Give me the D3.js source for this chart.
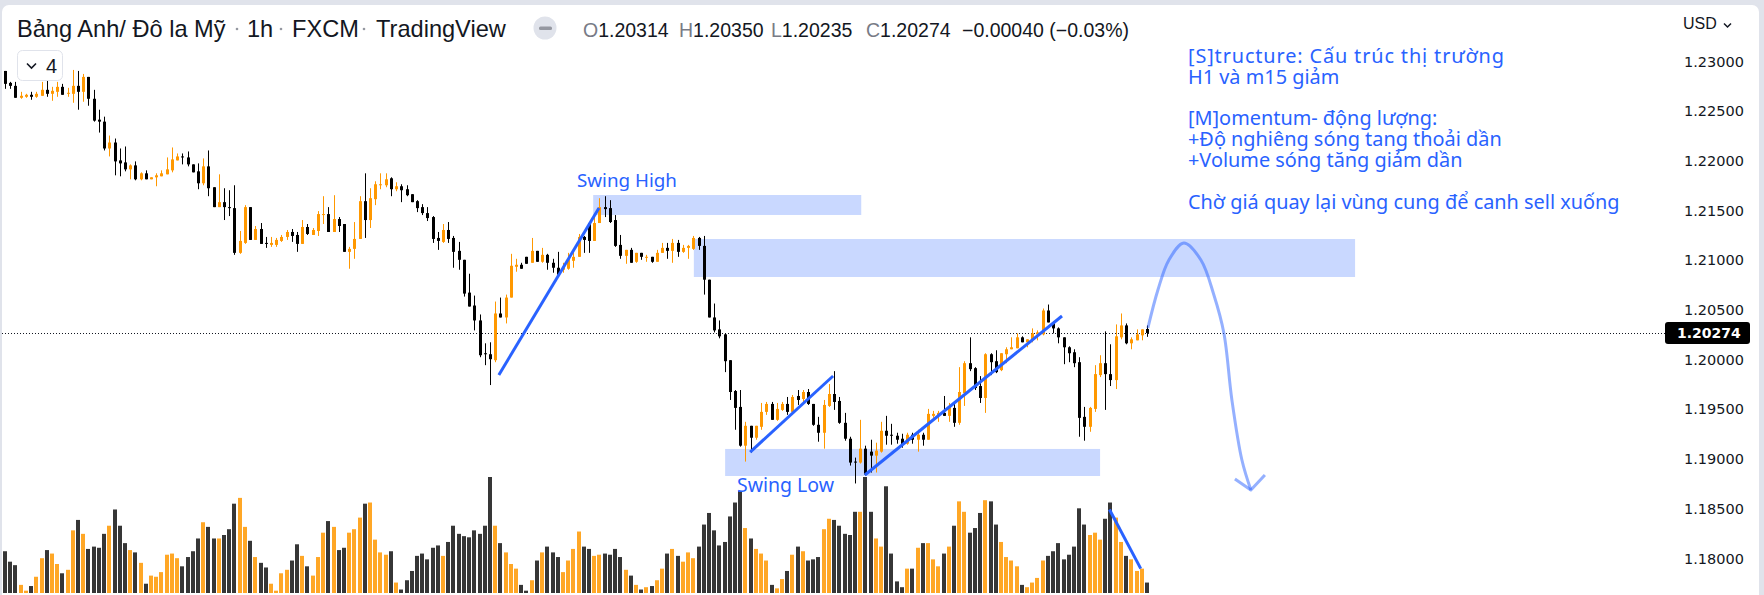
<!DOCTYPE html>
<html><head><meta charset="utf-8">
<script src="https://cdn.jsdelivr.net/npm/d3@7"></script>
<style>html,body{margin:0;padding:0;background:#e0e3eb;}svg{display:block;}</style>
</head><body>
<svg id="c" width="1764" height="595"></svg>
<script>
// ---------------- DATA (GBP/USD 1h, FXCM) ----------------
const open = [
1.2291,1.2279,1.2276,1.2264,1.2265,1.2267,1.2265,1.2266,1.2272,1.2268,
1.2270,1.2275,1.2268,1.2268,1.2276,1.2270,1.2285,1.2263,1.2242,1.2240,
1.2213,1.2219,1.2201,1.2199,1.2192,1.2196,1.2182,1.2188,1.2182,1.2184,
1.2185,1.2187,1.2191,1.2201,1.2205,1.2204,1.2197,1.2190,1.2178,1.2195,
1.2174,1.2154,1.2159,1.2154,1.2153,1.2108,1.2118,1.2154,1.2121,1.2132,
1.2118,1.2116,1.2116,1.2120,1.2124,1.2129,1.2126,1.2117,1.2134,1.2126,
1.2130,1.2146,1.2147,1.2129,1.2142,1.2137,1.2109,1.2112,1.2122,1.2160,
1.2141,1.2162,1.2176,1.2176,1.2183,1.2172,1.2175,1.2172,1.2167,1.2160,
1.2154,1.2148,1.2144,1.2123,1.2119,1.2131,1.2123,1.2110,1.2101,1.2068,
1.2055,1.2040,1.2007,1.2006,1.2000,1.2047,1.2043,1.2063,1.2094,1.2096,
1.2104,1.2098,1.2110,1.2099,1.2106,1.2098,1.2093,1.2091,1.2092,1.2100,
1.2104,1.2124,1.2138,1.2120,1.2138,1.2154,1.2153,1.2141,1.2116,1.2105,
1.2111,1.2099,1.2108,1.2103,1.2104,1.2099,1.2108,1.2113,1.2110,1.2118,
1.2109,1.2113,1.2112,1.2123,1.2115,1.2081,1.2043,1.2031,1.2026,1.2000,
1.1969,1.1953,1.1914,1.1934,1.1922,1.1933,1.1948,1.1956,1.1940,1.1950,
1.1956,1.1948,1.1964,1.1961,1.1968,1.1956,1.1935,1.1927,1.1954,1.1966,
1.1959,1.1937,1.1921,1.1898,1.1897,1.1911,1.1908,1.1904,1.1908,1.1929,
1.1925,1.1924,1.1921,1.1916,1.1925,1.1920,1.1925,1.1920,1.1944,1.1944,
1.1947,1.1944,1.1952,1.1937,1.1967,1.1997,1.1992,1.1974,1.1962,1.2006,
1.1999,1.1990,1.2006,1.2011,1.2012,1.2023,1.2018,1.2020,1.2026,1.2026,
1.2050,1.2038,1.2032,1.2023,1.2013,1.2008,1.1998,1.1943,1.1933,1.1951,
1.1985,1.1997,1.1986,1.1980,1.2023,1.2035,1.2017,1.2020,1.2025,1.20314];
const high = [
1.2291,1.2280,1.2280,1.2270,1.2268,1.2270,1.2270,1.2280,1.2283,1.2275,
1.2280,1.2278,1.2274,1.2292,1.2291,1.2288,1.2285,1.2272,1.2252,1.2245,
1.2226,1.2223,1.2213,1.2215,1.2197,1.2200,1.2189,1.2191,1.2184,1.2188,
1.2191,1.2204,1.2214,1.2208,1.2208,1.2210,1.2197,1.2198,1.2203,1.2211,
1.2174,1.2187,1.2173,1.2171,1.2176,1.2130,1.2156,1.2154,1.2135,1.2138,
1.2124,1.2124,1.2123,1.2126,1.2131,1.2132,1.2129,1.2141,1.2137,1.2133,
1.2150,1.2165,1.2154,1.2166,1.2144,1.2137,1.2114,1.2139,1.2165,1.2188,
1.2173,1.2180,1.2188,1.2188,1.2184,1.2179,1.2177,1.2176,1.2167,1.2161,
1.2157,1.2154,1.2145,1.2129,1.2137,1.2139,1.2125,1.2119,1.2101,1.2087,
1.2065,1.2046,1.2017,1.2018,1.2059,1.2063,1.2066,1.2107,1.2102,1.2098,
1.2104,1.2123,1.2110,1.2113,1.2107,1.2102,1.2109,1.2098,1.2108,1.2112,
1.2127,1.2125,1.2139,1.2145,1.2163,1.2165,1.2161,1.2146,1.2126,1.2111,
1.2113,1.2108,1.2108,1.2106,1.2104,1.2111,1.2118,1.2118,1.2122,1.2121,
1.2116,1.2116,1.2125,1.2124,1.2125,1.2081,1.2057,1.2040,1.2027,1.2000,
1.1970,1.1970,1.1938,1.1934,1.1934,1.1957,1.1958,1.1958,1.1957,1.1958,
1.1963,1.1965,1.1970,1.1970,1.1971,1.1956,1.1943,1.1960,1.1976,1.1989,
1.1963,1.1947,1.1923,1.1902,1.1940,1.1914,1.1920,1.1917,1.1938,1.1944,
1.1936,1.1927,1.1926,1.1927,1.1927,1.1930,1.1927,1.1951,1.1949,1.1949,
1.1964,1.1957,1.1957,1.1993,1.1999,1.2023,1.1993,1.1984,1.2007,1.2007,
1.2010,1.2007,1.2013,1.2023,1.2027,1.2024,1.2021,1.2032,1.2030,1.2052,
1.2056,1.2039,1.2033,1.2023,1.2014,1.2011,1.2003,1.1953,1.1953,1.1995,
1.2005,1.2029,1.2016,1.2036,1.2047,1.2037,1.2023,1.2031,1.2031,1.20350];
const low = [
1.2273,1.2273,1.2264,1.2263,1.2264,1.2262,1.2264,1.2266,1.2265,1.2261,
1.2265,1.2267,1.2265,1.2259,1.2252,1.2260,1.2256,1.2240,1.2229,1.2211,
1.2205,1.2186,1.2185,1.2190,1.2182,1.2181,1.2181,1.2182,1.2182,1.2175,
1.2185,1.2187,1.2189,1.2201,1.2197,1.2195,1.2189,1.2172,1.2176,1.2165,
1.2154,1.2154,1.2141,1.2145,1.2106,1.2107,1.2117,1.2121,1.2121,1.2117,
1.2113,1.2114,1.2114,1.2119,1.2121,1.2119,1.2109,1.2117,1.2126,1.2126,
1.2125,1.2137,1.2129,1.2129,1.2129,1.2109,1.2092,1.2102,1.2122,1.2123,
1.2133,1.2156,1.2172,1.2174,1.2165,1.2170,1.2159,1.2165,1.2159,1.2149,
1.2146,1.2140,1.2118,1.2111,1.2118,1.2118,1.2093,1.2091,1.2064,1.2054,
1.2030,1.2003,1.1995,1.1975,1.1998,1.2043,1.2037,1.2063,1.2089,1.2092,
1.2097,1.2098,1.2099,1.2098,1.2091,1.2088,1.2084,1.2088,1.2091,1.2093,
1.2104,1.2108,1.2108,1.2120,1.2138,1.2144,1.2138,1.2114,1.2102,1.2097,
1.2098,1.2098,1.2101,1.2099,1.2098,1.2099,1.2108,1.2102,1.2098,1.2104,
1.2108,1.2102,1.2111,1.2111,1.2066,1.2043,1.2028,1.2022,1.1988,1.1960,
1.1930,1.1913,1.1898,1.1907,1.1920,1.1930,1.1945,1.1940,1.1939,1.1949,
1.1945,1.1947,1.1955,1.1957,1.1955,1.1934,1.1918,1.1911,1.1953,1.1950,
1.1936,1.1919,1.1894,1.1876,1.1896,1.1884,1.1887,1.1887,1.1907,1.1915,
1.1915,1.1916,1.1912,1.1915,1.1916,1.1908,1.1914,1.1920,1.1942,1.1938,
1.1944,1.1938,1.1933,1.1935,1.1954,1.1989,1.1970,1.1957,1.1947,1.1985,
1.1987,1.1989,1.1997,1.2011,1.2012,1.2018,1.2013,1.2018,1.2020,1.2025,
1.2038,1.2027,1.2017,1.1996,1.1998,1.1993,1.1923,1.1919,1.1928,1.1948,
1.1983,1.1950,1.1974,1.1971,1.2021,1.2016,1.2011,1.2020,1.2020,1.20235];
const close = [
1.2278,1.2276,1.2264,1.2266,1.2267,1.2265,1.2268,1.2272,1.2268,1.2271,
1.2275,1.2267,1.2269,1.2276,1.2270,1.2285,1.2263,1.2241,1.2240,1.2213,
1.2219,1.2200,1.2198,1.2192,1.2196,1.2182,1.2188,1.2182,1.2184,1.2186,
1.2188,1.2192,1.2202,1.2205,1.2204,1.2197,1.2189,1.2178,1.2195,1.2173,
1.2154,1.2159,1.2154,1.2153,1.2108,1.2120,1.2154,1.2121,1.2132,1.2117,
1.2117,1.2118,1.2121,1.2124,1.2129,1.2125,1.2117,1.2134,1.2127,1.2131,
1.2147,1.2147,1.2129,1.2142,1.2135,1.2109,1.2112,1.2122,1.2160,1.2141,
1.2163,1.2177,1.2177,1.2182,1.2172,1.2175,1.2171,1.2166,1.2159,1.2153,
1.2148,1.2143,1.2122,1.2120,1.2131,1.2122,1.2109,1.2101,1.2067,1.2054,
1.2040,1.2005,1.2006,1.2001,1.2047,1.2043,1.2063,1.2095,1.2096,1.2092,
1.2097,1.2110,1.2099,1.2106,1.2098,1.2093,1.2086,1.2094,1.2102,1.2104,
1.2124,1.2121,1.2120,1.2138,1.2154,1.2152,1.2139,1.2115,1.2105,1.2111,
1.2098,1.2108,1.2104,1.2104,1.2099,1.2108,1.2113,1.2110,1.2118,1.2109,
1.2113,1.2115,1.2123,1.2115,1.2081,1.2043,1.2030,1.2024,1.1999,1.1968,
1.1952,1.1914,1.1934,1.1922,1.1934,1.1948,1.1956,1.1940,1.1951,1.1956,
1.1948,1.1963,1.1960,1.1968,1.1956,1.1935,1.1927,1.1955,1.1966,1.1958,
1.1937,1.1921,1.1897,1.1897,1.1911,1.1885,1.1904,1.1909,1.1929,1.1924,
1.1924,1.1920,1.1915,1.1925,1.1920,1.1925,1.1920,1.1946,1.1946,1.1947,
1.1944,1.1953,1.1937,1.1968,1.1997,1.1991,1.1972,1.1962,1.2006,1.1998,
1.1988,1.2007,1.2011,1.2013,1.2023,1.2018,1.2021,1.2027,1.2028,1.2050,
1.2038,1.2032,1.2023,1.2013,1.2007,1.1997,1.1942,1.1933,1.1952,1.1986,
1.1997,1.1986,1.1980,1.2024,1.2035,1.2017,1.2021,1.2026,1.2031,1.20274];
const volume = [
36,27,24,7,2,6,14,30,37,34, 25,17,20,54,63,51,38,40,39,51,
58,72,58,43,37,35,26,8,15,14, 18,33,34,30,23,31,36,47,61,57,
47,47,50,55,77,82,57,45,31,26, 22,8,2,17,20,28,42,32,23,15,
31,52,62,57,37,39,52,55,65,77, 78,46,35,33,36,9,3,11,19,32,
34,29,39,41,32,44,58,51,49,48, 54,51,58,100,58,43,35,25,21,7,
2,11,28,35,40,35,31,18,28,38, 53,40,38,32,33,34,33,38,31,20,
15,7,3,5,6,11,21,34,38,32, 27,35,30,40,59,69,54,41,44,66,
78,88,56,47,38,34,28,7,4,12, 19,33,40,36,28,29,31,55,64,63,
58,51,50,70,70,100,70,47,40,92, 34,10,5,21,21,39,43,43,29,23,
34,40,58,79,70,52,56,69,80,79, 59,44,31,28,23,7,5,9,13,28,
32,36,43,29,33,40,73,59,50,52, 46,64,78,65,44,32,29,19,21,9];
const priceTicks = [1.18,1.185,1.19,1.195,1.20,1.205,1.21,1.215,1.22,1.225,1.23];
const lastPrice = 1.20274;
const titleParts = ["Bảng Anh/ Đô la Mỹ","1h","FXCM","TradingView"];
const ohlcLetters = ["O","H","L","C"];
const ohlcValues = ["1.20314","1.20350","1.20235","1.20274"];
const changeText = "−0.00040 (−0.03%)";
// drawings (anchored at bar index / price)
const zoneBar0 = [112.8, 132.1, 138.1];
const zoneBar1 = [164.2, 258.9, 210.0];
const zoneTop  = [1.21662, 1.21219, 1.19107];
const zoneBot  = [1.21461, 1.20837, 1.18835];
const trendBar0 = [94.7, 142.9, 164.9];
const trendBar1 = [113.9, 158.8, 202.7];
const trendP0 = [1.19851, 1.19076, 1.18845];
const trendP1 = [1.21531, 1.19841, 1.20445];
const volLineBar = [211.8, 217.8], volLineVal = [72, 21];
const arrowBars = [219.17,221.09,223.2,226.08,229.34,231.83,233.74,235.28,237.2,238.92];
const arrowPrices = [1.20324,1.20706,1.21008,1.21179,1.21008,1.20656,1.20274,1.19600,1.18996,1.18694];
const noteLines = ["[S]tructure: Cấu trúc thị trường","H1 và m15 giảm","","[M]omentum- động lượng:","+Độ nghiêng sóng tang thoải dần","+Volume sóng tăng giảm dần","","Chờ giá quay lại vùng cung để canh sell xuống"];

// ---------------- CHART ----------------
const svg = d3.select("#c");
const n = open.length;
const x = d3.scaleLinear().domain([0, n-1]).range([5, 1147]);
const y = d3.scaleLinear().domain([1.18, 1.23]).range([559, 62]);
const yv = d3.scaleLinear().domain([0, 100]).range([593, 477]);
const UP = "#ff9800", DN = "#000000", VUP = "#ffa726", VDN = "#363636";
const BLUE = "#2962ff";

// card
svg.append("rect").attr("x",2).attr("y",5).attr("width",1757).attr("height",620).attr("rx",7).attr("fill","#ffffff");
svg.append("clipPath").attr("id","cl").append("rect").attr("x",2).attr("y",5).attr("width",1757).attr("height",590);
const g = svg.append("g").attr("clip-path","url(#cl)");

// zones
g.selectAll("rect.zone").data(d3.range(zoneBar0.length)).join("rect")
  .attr("x", i=>x(zoneBar0[i])).attr("width", i=>x(zoneBar1[i])-x(zoneBar0[i]))
  .attr("y", i=>y(zoneTop[i])).attr("height", i=>y(zoneBot[i])-y(zoneTop[i]))
  .attr("fill","rgba(41,98,255,0.25)");

// volume
g.selectAll("rect.vol").data(d3.range(n)).join("rect")
  .attr("x", i=>Math.round(x(i))-2).attr("width",4)
  .attr("y", i=>yv(volume[i])).attr("height", i=>yv(0)-yv(volume[i]))
  .attr("fill", i=> close[i]>=open[i] ? VUP : VDN);

// last price dotted line
g.append("line").attr("x1",2).attr("x2",1665).attr("y1",Math.round(y(lastPrice))+0.5).attr("y2",Math.round(y(lastPrice))+0.5)
  .attr("stroke","#131722").attr("stroke-width",1).attr("stroke-dasharray","1,2");

// candles
const cg = g.append("g");
cg.selectAll("line.w").data(d3.range(n)).join("line")
  .attr("x1", i=>Math.round(x(i))+0.5).attr("x2", i=>Math.round(x(i))+0.5)
  .attr("y1", i=>y(high[i])).attr("y2", i=>y(low[i]))
  .attr("stroke", i=> close[i]>=open[i] ? UP : DN).attr("stroke-width",1);
cg.selectAll("rect.b").data(d3.range(n)).join("rect")
  .attr("x", i=>Math.round(x(i))-1).attr("width",3)
  .attr("y", i=>y(Math.max(open[i],close[i])))
  .attr("height", i=>Math.max(1, Math.abs(y(open[i])-y(close[i]))))
  .attr("fill", i=> close[i]>=open[i] ? UP : DN);

// trend lines
g.selectAll("line.tr").data(d3.range(trendBar0.length)).join("line")
  .attr("x1", i=>x(trendBar0[i])).attr("y1", i=>y(trendP0[i]))
  .attr("x2", i=>x(trendBar1[i])).attr("y2", i=>y(trendP1[i]))
  .attr("stroke",BLUE).attr("stroke-width",3);
g.append("line").attr("x1",x(volLineBar[0])).attr("y1",yv(volLineVal[0]))
  .attr("x2",x(volLineBar[1])).attr("y2",yv(volLineVal[1]))
  .attr("stroke",BLUE).attr("stroke-width",3);

// curved arrow
const apts = arrowBars.map((b,i)=>[x(b), y(arrowPrices[i])]);
g.append("path").attr("d", d3.line().curve(d3.curveCatmullRom)(apts))
  .attr("fill","none").attr("stroke","rgba(41,98,255,0.5)").attr("stroke-width",3);
const tip = apts[apts.length-1];
g.append("path").attr("d", `M${x(235.86)},${y(1.18805)}L${tip[0]},${tip[1]}L${x(241.61)},${y(1.18845)}`)
  .attr("fill","none").attr("stroke","rgba(41,98,255,0.5)").attr("stroke-width",3).attr("stroke-linejoin","round");

// helper to fit text width
function fit(sel, target){ const w = sel.node().getComputedTextLength(); const fs = parseFloat(sel.attr("font-size")); sel.attr("font-size", fs*target/w); return fs*target/w; }

// Swing labels
const sh = g.append("text").attr("x",577).attr("y",187).attr("font-family","Noto Sans, DejaVu Sans, sans-serif").attr("font-size",18).attr("fill",BLUE).text("Swing High");
fit(sh, 100);
const sl = g.append("text").attr("x",737).attr("y",492).attr("font-family","Noto Sans, DejaVu Sans, sans-serif").attr("font-size",18).attr("fill",BLUE).text("Swing Low");
fit(sl, 97);

// note block
const lines = g.append("g").selectAll("text").data(noteLines).join("text")
  .attr("x",1188).attr("y",(d,i)=>63+i*20.8)
  .attr("font-family","Noto Sans, DejaVu Sans, sans-serif").attr("font-size",17).attr("fill",BLUE).text(d=>d);
const fsN = fit(d3.select(lines.nodes()[7]), 432);
lines.attr("font-size", fsN);
// first line is a little wider in the reference font
d3.select(lines.nodes()[0]).attr("textLength", 316).attr("lengthAdjust","spacing");

// price axis
const ax = svg.append("g");
ax.selectAll("text").data(priceTicks).join("text")
  .attr("x",1684).attr("y", d=>y(d)+4.5)
  .attr("font-family","DejaVu Sans, sans-serif").attr("font-size",14.5).attr("fill","#131722")
  .text(d=>d3.format(".5f")(d));
svg.append("text").attr("x",1683).attr("y",29).attr("font-family","Liberation Sans, Arial, sans-serif").attr("font-size",16).attr("fill","#131722").text("USD");
svg.append("path").attr("d","M1724,23.5l3.5,3.5l3.5,-3.5").attr("fill","none").attr("stroke","#131722").attr("stroke-width",1.5);
// last price label
svg.append("rect").attr("x",1665).attr("y",y(lastPrice)-11).attr("width",85).attr("height",22).attr("rx",3).attr("fill","#000");
svg.append("text").attr("x",1677).attr("y",y(lastPrice)+5).attr("font-family","DejaVu Sans, sans-serif").attr("font-weight","bold").attr("font-size",14).attr("fill","#fff").text(d3.format(".5f")(lastPrice));

// header
const HF = "Liberation Sans, Arial, sans-serif";
const tpos = [17, 247, 292, 376];
svg.selectAll("text.title").data(titleParts).join("text")
  .attr("x",(d,i)=>tpos[i]).attr("y",37).attr("font-family",HF).attr("font-size",23.6).attr("fill","#131722").text(d=>d);
[237, 281, 364].forEach(cx=>svg.append("circle").attr("cx",cx).attr("cy",29).attr("r",1.3).attr("fill","#9598a1"));
svg.append("circle").attr("cx",545).attr("cy",28).attr("r",11.5).attr("fill","#e0e3eb");
svg.append("rect").attr("x",539).attr("y",26.5).attr("width",13).attr("height",3.5).attr("rx",1.5).attr("fill","#9598a1");
const opos = [583, 679, 771, 866];
ohlcLetters.forEach((L,i)=>{
  const t = svg.append("text").attr("x",opos[i]).attr("y",37).attr("font-family",HF).attr("font-size",19.5);
  t.append("tspan").attr("fill","#787b86").text(L);
  t.append("tspan").attr("fill","#131722").text(ohlcValues[i]);
});
svg.append("text").attr("x",962).attr("y",37).attr("font-family",HF).attr("font-size",19.5).attr("fill","#131722").text(changeText);

// legend toggle "4"
svg.append("rect").attr("x",17.5).attr("y",50.5).attr("width",45).attr("height",30).attr("rx",5).attr("fill","#fff").attr("stroke","#e0e3eb");
svg.append("path").attr("d","M27,63.5l4.5,4.5l4.5,-4.5").attr("fill","none").attr("stroke","#131722").attr("stroke-width",1.6);
svg.append("text").attr("x",46).attr("y",73).attr("font-family",HF).attr("font-size",20).attr("fill","#131722").text("4");
</script>
</body></html>
